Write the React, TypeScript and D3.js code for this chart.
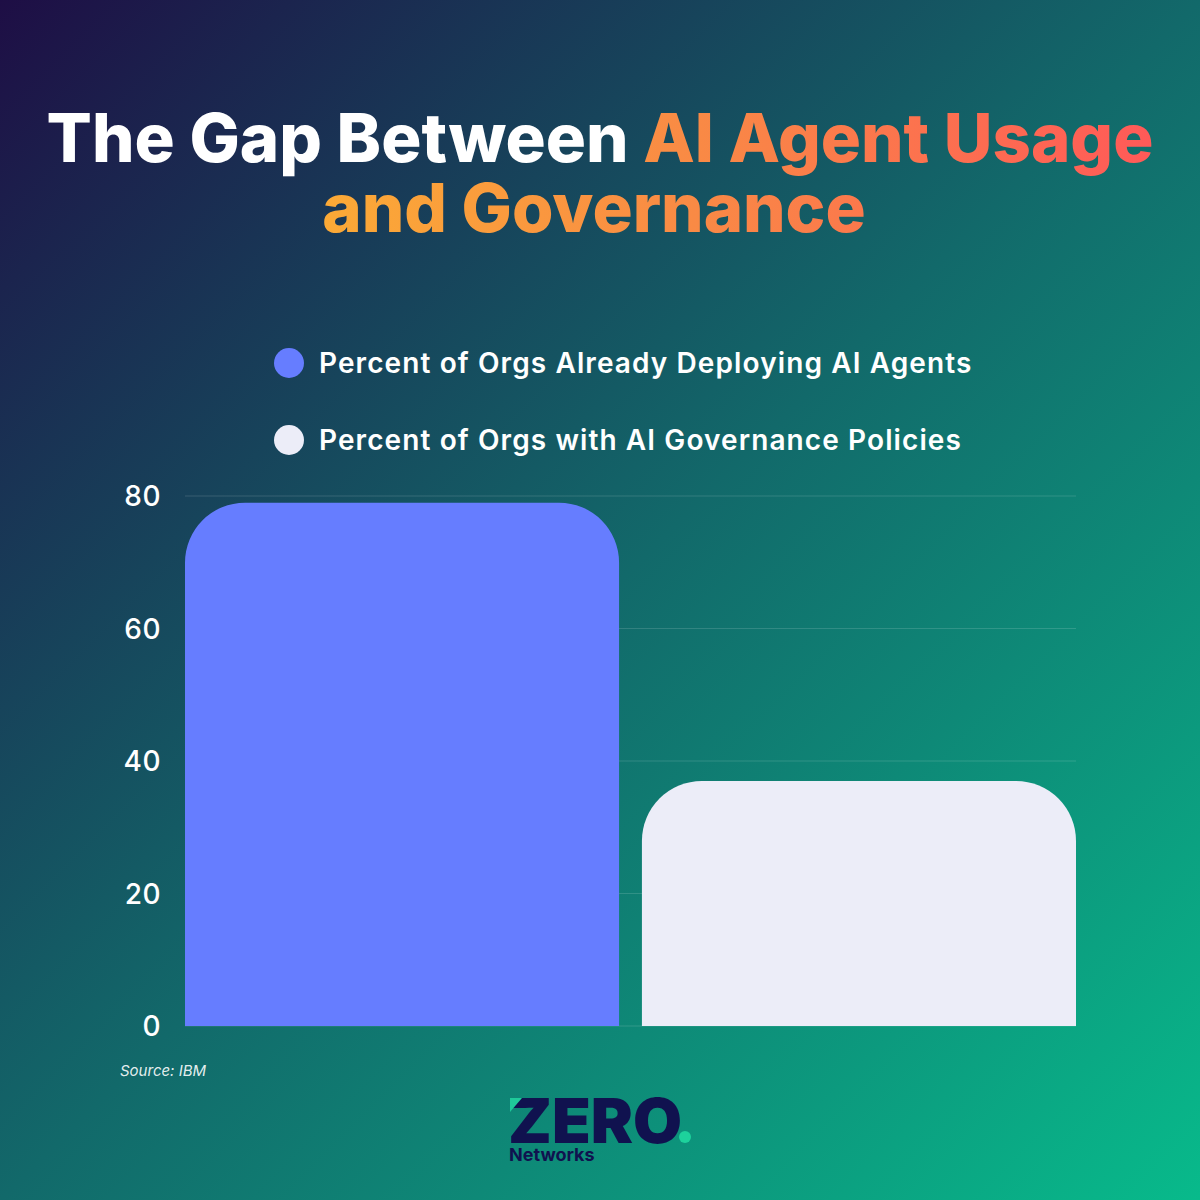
// @ts-nocheck
import React from "react";
import * as d3 from "d3";

const categories = [
  "Percent of Orgs Already Deploying AI Agents",
  "Percent of Orgs with AI Governance Policies",
];
const values = [79, 37];
const barColors = ["#667dff", "#ecedf8"];
const yTicks = [0, 20, 40, 60, 80];
const titleWhite = "The Gap Between ";
const titleColored1 = "AI Agent Usage";
const titleColored2 = "and Governance";
const source = "Source: IBM";

const W = 1200;
const H = 1200;

const x = d3.scaleBand().domain(categories).range([185, 1076]).paddingInner(0.05).paddingOuter(0);
const y = d3.scaleLinear().domain([0, 80]).range([1026, 496]);

// bar with only the top corners rounded
const topRounded = (x0, x1, yTop, yBot, r) => {
  const p = d3.path();
  p.moveTo(x0, yBot);
  p.lineTo(x0, yTop + r);
  p.arcTo(x0, yTop, x0 + r, yTop, r);
  p.lineTo(x1 - r, yTop);
  p.arcTo(x1, yTop, x1, yTop + r, r);
  p.lineTo(x1, yBot);
  p.closePath();
  return p.toString();
};

export default function App() {
  const font = "Inter, 'DejaVu Sans', sans-serif";
  return (
    <svg
      width={W}
      height={H}
      viewBox={`0 0 ${W} ${H}`}
      style={{ position: "absolute", left: 0, top: 0 }}
    >
      <defs>
        <linearGradient id="bg" x1="0" y1="0" x2="1" y2="1">
          <stop offset="0" stopColor="#1e0e45" />
          <stop offset="0.5" stopColor="#12696a" />
          <stop offset="1" stopColor="#08ba8b" />
        </linearGradient>
        <linearGradient id="titleGrad" gradientUnits="userSpaceOnUse" x1="320" y1="0" x2="1150" y2="0">
          <stop offset="0" stopColor="#fbaa36" />
          <stop offset="0.45" stopColor="#f98a45" />
          <stop offset="1" stopColor="#ff5a58" />
        </linearGradient>
      </defs>
      <rect width={W} height={H} fill="url(#bg)" />

      <g fontFamily={font} fontWeight={800} fontSize={67} textAnchor="middle" letterSpacing={0}>
        <text x={600} y={162}>
          <tspan fill="#ffffff">{titleWhite}</tspan>
          <tspan fill="url(#titleGrad)">{titleColored1}</tspan>
        </text>
        <text x={594} y={232} fill="url(#titleGrad)">
          {titleColored2}
        </text>
      </g>

      {categories.map((c, i) => (
        <g key={c} transform={`translate(0, ${363 + i * 77})`}>
          <circle cx={289} cy={0} r={15} fill={barColors[i]} />
          <text
            x={319}
            y={10}
            fill="#fff"
            fontFamily={font}
            fontWeight={600}
            fontSize={28}
            letterSpacing={1.1}
          >
            {c}
          </text>
        </g>
      ))}

      {yTicks.map((t) => (
        <g key={t}>
          <line x1={185} x2={1076} y1={y(t)} y2={y(t)} stroke="rgba(255,255,255,0.14)" strokeWidth={1} />
          <text
            x={161}
            y={y(t) + 10}
            textAnchor="end"
            fill="#fff"
            fontFamily={font}
            fontWeight={500}
            fontSize={28}
            letterSpacing={0.5}
          >
            {t}
          </text>
        </g>
      ))}

      {categories.map((c, i) => (
        <path
          key={c}
          d={topRounded(x(c), x(c) + x.bandwidth(), y(values[i]), y(0), 60)}
          fill={barColors[i]}
        />
      ))}

      <text x={120} y={1076} fill="rgba(255,255,255,0.9)" fontFamily={font} fontStyle="italic" fontSize={15}>
        {source}
      </text>

      <g>
        <text
          x={508}
          y={1143}
          fill="#10124f"
          fontFamily={font}
          fontWeight={900}
          fontSize={62}
          textLength={174}
          lengthAdjust="spacingAndGlyphs"
        >
          ZERO
        </text>
        <path d="M510,1098 L522,1098 L510,1112 Z" fill="#1fc99a" />
        <circle cx={685} cy={1137} r={6} fill="#1dd29c" />
        <text x={509} y={1161} fill="#10124f" fontFamily={font} fontWeight={700} fontSize={18}>
          Networks
        </text>
      </g>
    </svg>
  );
}
